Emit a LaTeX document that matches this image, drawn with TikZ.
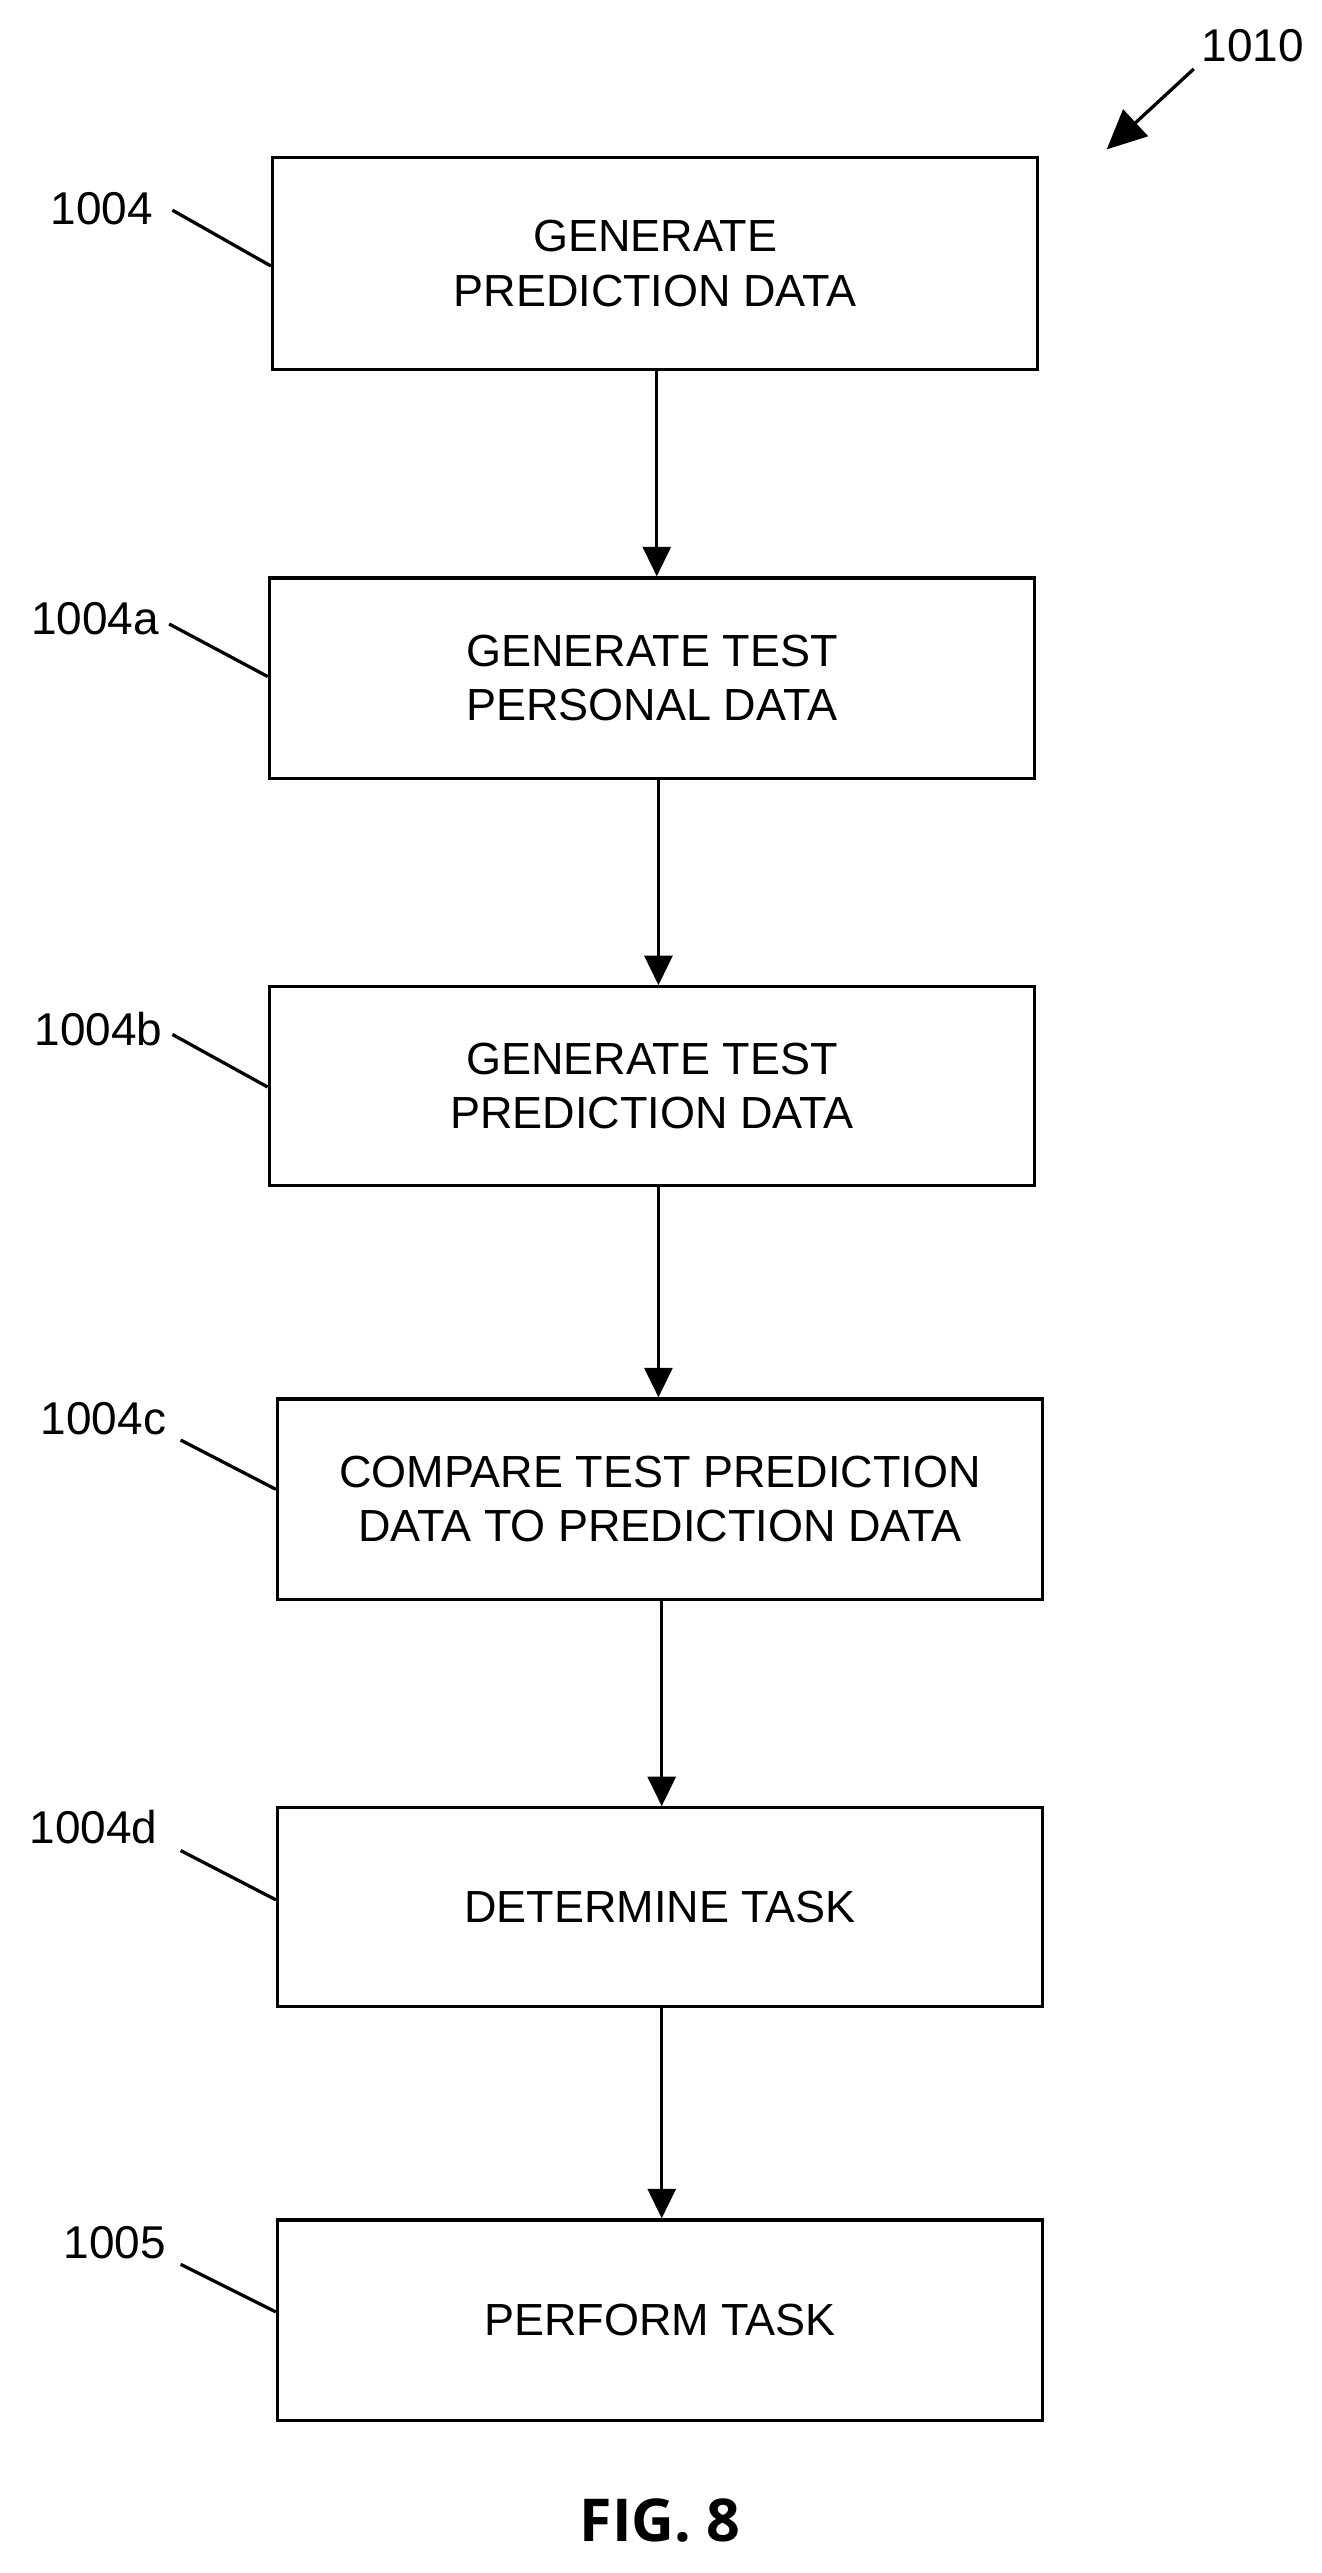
\documentclass[tikz,border=0pt]{standalone}
\usepackage{fontspec}
\setmainfont{Liberation Sans}
\newfontfamily\figfont{Open Sans}
\usetikzlibrary{arrows.meta}
\begin{document}
\begin{tikzpicture}[x=1pt,y=-1pt,
  box/.style={draw,line width=2pt,minimum width=466pt,minimum height=128pt,align=center,font=\fontsize{27.4}{33}\selectfont,inner sep=0pt},
  lbl/.style={font=\fontsize{28}{32}\selectfont,inner sep=0pt},
  lead/.style={line width=2pt},
  arr/.style={line width=2pt,-{Triangle[length=18pt,width=17pt]}}]
\useasboundingbox (0,0) rectangle (805,1567);
\node[box,minimum height=129pt] (b1) at (399,160.5) {GENERATE\\PREDICTION DATA};
\node[box,minimum height=122pt] (b2) at (397,413) {GENERATE TEST\\PERSONAL DATA};
\node[box,minimum height=121pt] (b3) at (397,661.5) {GENERATE TEST\\PREDICTION DATA};
\node[box,minimum height=122pt] (b4) at (402,913) {COMPARE TEST PREDICTION\\DATA TO PREDICTION DATA};
\node[box,minimum height=121pt] (b5) at (402,1161.5) {DETERMINE TASK};
\node[box,minimum height=122pt] (b6) at (402,1413) {PERFORM TASK};
\draw[arr] (b1.south -| 400,0) -- (b2.north -| 400,0);
\draw[arr] (b2.south -| 401,0) -- (b3.north -| 401,0);
\draw[arr] (b3.south -| 401,0) -- (b4.north -| 401,0);
\draw[arr] (b4.south -| 403,0) -- (b5.north -| 403,0);
\draw[arr] (b5.south -| 403,0) -- (b6.north -| 403,0);
\node[lbl] (l1) at (62,127) {1004};
\node[lbl] (l2) at (58,377) {1004a};
\node[lbl] (l3) at (60,627) {1004b};
\node[lbl] (l4) at (63,864) {1004c};
\node[lbl] (l5) at (57,1113) {1004d};
\node[lbl] (l6) at (70,1366) {1005};
\draw[lead] (105,128) -- (b1.west |- 0,162);
\draw[lead] (103,380) -- (b2.west |- 0,412);
\draw[lead] (105,630) -- (b3.west |- 0,662);
\draw[lead] (110,877) -- (b4.west |- 0,907);
\draw[lead] (110,1127) -- (b5.west |- 0,1157);
\draw[lead] (110,1379) -- (b6.west |- 0,1408);
\node[lbl] (l0) at (763,28) {1010};
\coordinate (a0) at (674,91);
\draw[line width=2pt,-{Triangle[length=24pt,width=22pt]}] (727,42) -- (a0);
\node[font=\figfont\bfseries\fontsize{36}{40}\selectfont] (fig) at (402,1535) {FIG. 8};
\end{tikzpicture}
\end{document}
